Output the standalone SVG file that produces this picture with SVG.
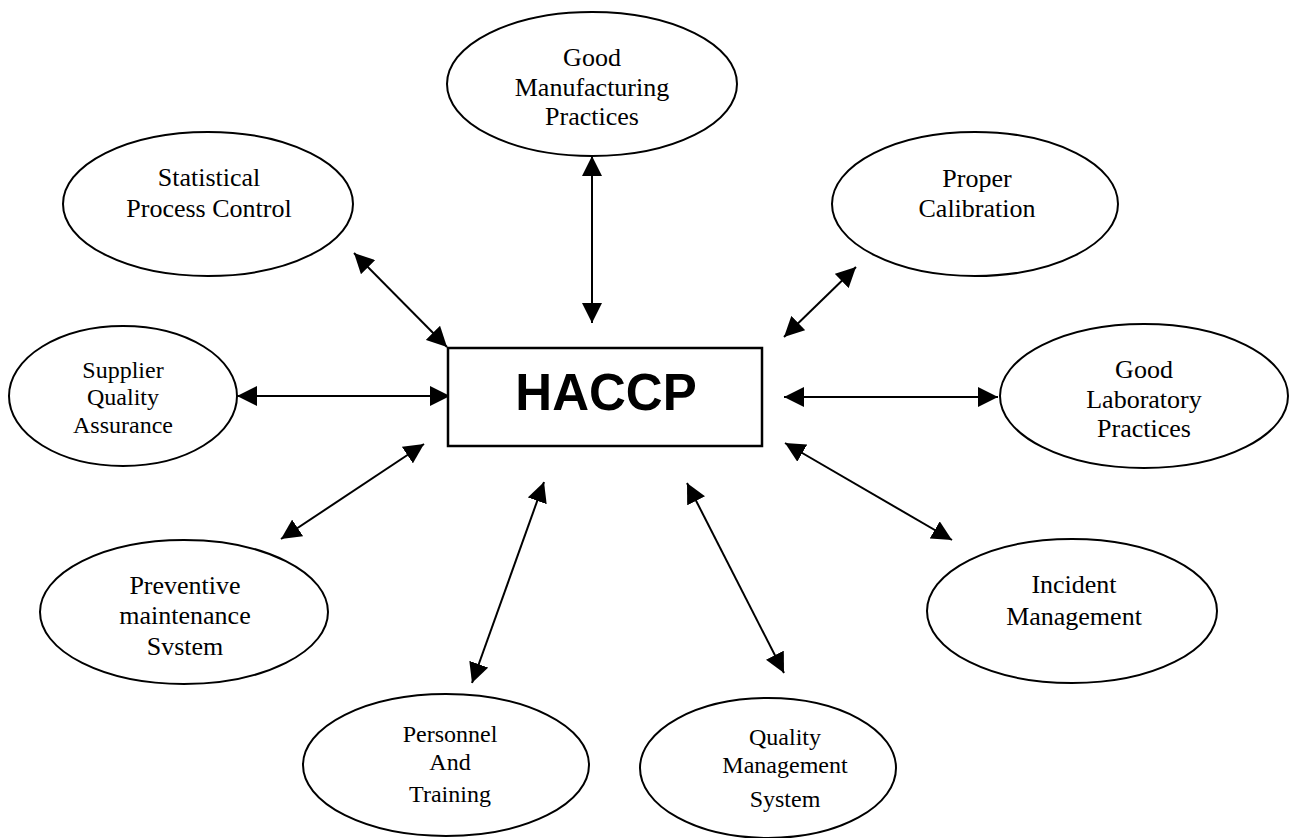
<svg xmlns="http://www.w3.org/2000/svg" width="1289" height="838" viewBox="0 0 1289 838">
  <style>
    .node ellipse { fill: #fff; stroke: #000; stroke-width: 2; }
    .box { fill: #fff; stroke: #000; stroke-width: 2.5; }
    .lbl { font-family: "Liberation Serif", "Times New Roman", serif; fill: #000; text-anchor: middle; }
    .lg { font-size: 26px; }
    .sm { font-size: 24px; }
    .hub { font-family: "Liberation Sans", Arial, sans-serif; font-weight: bold; font-size: 51px; text-anchor: middle; fill: #000; }
    .link { stroke: #000; stroke-width: 2; fill: none; marker-start: url(#tip); marker-end: url(#tip); }
  </style>
  <defs>
    <marker id="tip" markerUnits="userSpaceOnUse" markerWidth="20" markerHeight="20" refX="20" refY="10" orient="auto-start-reverse">
      <path d="M0,0 L20,10 L0,20 z" fill="#000"/>
    </marker>
  </defs>
  <rect width="1289" height="838" fill="#fff"/>

  <!-- connectors: double-headed arrows between the hub and each practice -->
  <g id="connectors">
    <line class="link" x1="592" y1="156" x2="592" y2="323"/>
    <line class="link" x1="354" y1="253" x2="447" y2="347"/>
    <line class="link" x1="856" y1="267" x2="784" y2="337"/>
    <line class="link" x1="237" y1="396" x2="450" y2="396"/>
    <line class="link" x1="784" y1="397" x2="998" y2="397"/>
    <line class="link" x1="424" y1="444" x2="281" y2="539"/>
    <line class="link" x1="785" y1="443" x2="952" y2="540"/>
    <line class="link" x1="544" y1="482" x2="472" y2="683"/>
    <line class="link" x1="687" y1="483" x2="784" y2="673"/>
  </g>

  <!-- central hub -->
  <g id="haccp">
    <rect class="box" x="448" y="348" width="314" height="98"/>
    <text class="hub" x="606" y="410">HACCP</text>
  </g>

  <g id="gmp" class="node">
    <ellipse cx="592" cy="84" rx="145" ry="72"/>
    <text class="lbl lg" x="592" y="66">Good</text>
    <text class="lbl lg" x="592" y="96">Manufacturing</text>
    <text class="lbl lg" x="592" y="125">Practices</text>
  </g>

  <g id="spc" class="node">
    <ellipse cx="208" cy="204" rx="145" ry="72"/>
    <text class="lbl lg" x="209" y="186">Statistical</text>
    <text class="lbl lg" x="209" y="217">Process Control</text>
  </g>

  <g id="calibration" class="node">
    <ellipse cx="975" cy="204" rx="143" ry="72"/>
    <text class="lbl lg" x="977" y="187">Proper</text>
    <text class="lbl lg" x="977" y="217">Calibration</text>
  </g>

  <g id="supplier" class="node">
    <ellipse cx="123" cy="396" rx="114" ry="70"/>
    <text class="lbl sm" x="123" y="378">Supplier</text>
    <text class="lbl sm" x="123" y="405">Quality</text>
    <text class="lbl sm" x="123" y="433">Assurance</text>
  </g>

  <g id="glp" class="node">
    <ellipse cx="1144" cy="396" rx="144" ry="72"/>
    <text class="lbl lg" x="1144" y="378">Good</text>
    <text class="lbl lg" x="1144" y="408">Laboratory</text>
    <text class="lbl lg" x="1144" y="437">Practices</text>
  </g>

  <g id="preventive" class="node">
    <ellipse cx="184" cy="612" rx="144" ry="72"/>
    <text class="lbl lg" x="185" y="594">Preventive</text>
    <text class="lbl lg" x="185" y="624">maintenance</text>
    <text class="lbl lg" x="185" y="655">Svstem</text>
  </g>

  <g id="incident" class="node">
    <ellipse cx="1072" cy="611" rx="145" ry="72"/>
    <text class="lbl lg" x="1074" y="593">Incident</text>
    <text class="lbl lg" x="1074" y="625">Management</text>
  </g>

  <g id="personnel" class="node">
    <ellipse cx="446" cy="765" rx="143" ry="71"/>
    <text class="lbl sm" x="450" y="742">Personnel</text>
    <text class="lbl sm" x="450" y="770">And</text>
    <text class="lbl sm" x="450" y="802">Training</text>
  </g>

  <g id="qms" class="node">
    <ellipse cx="768" cy="768" rx="128" ry="70"/>
    <text class="lbl sm" x="785" y="745">Quality</text>
    <text class="lbl sm" x="785" y="773">Management</text>
    <text class="lbl sm" x="785" y="807">System</text>
  </g>
</svg>
